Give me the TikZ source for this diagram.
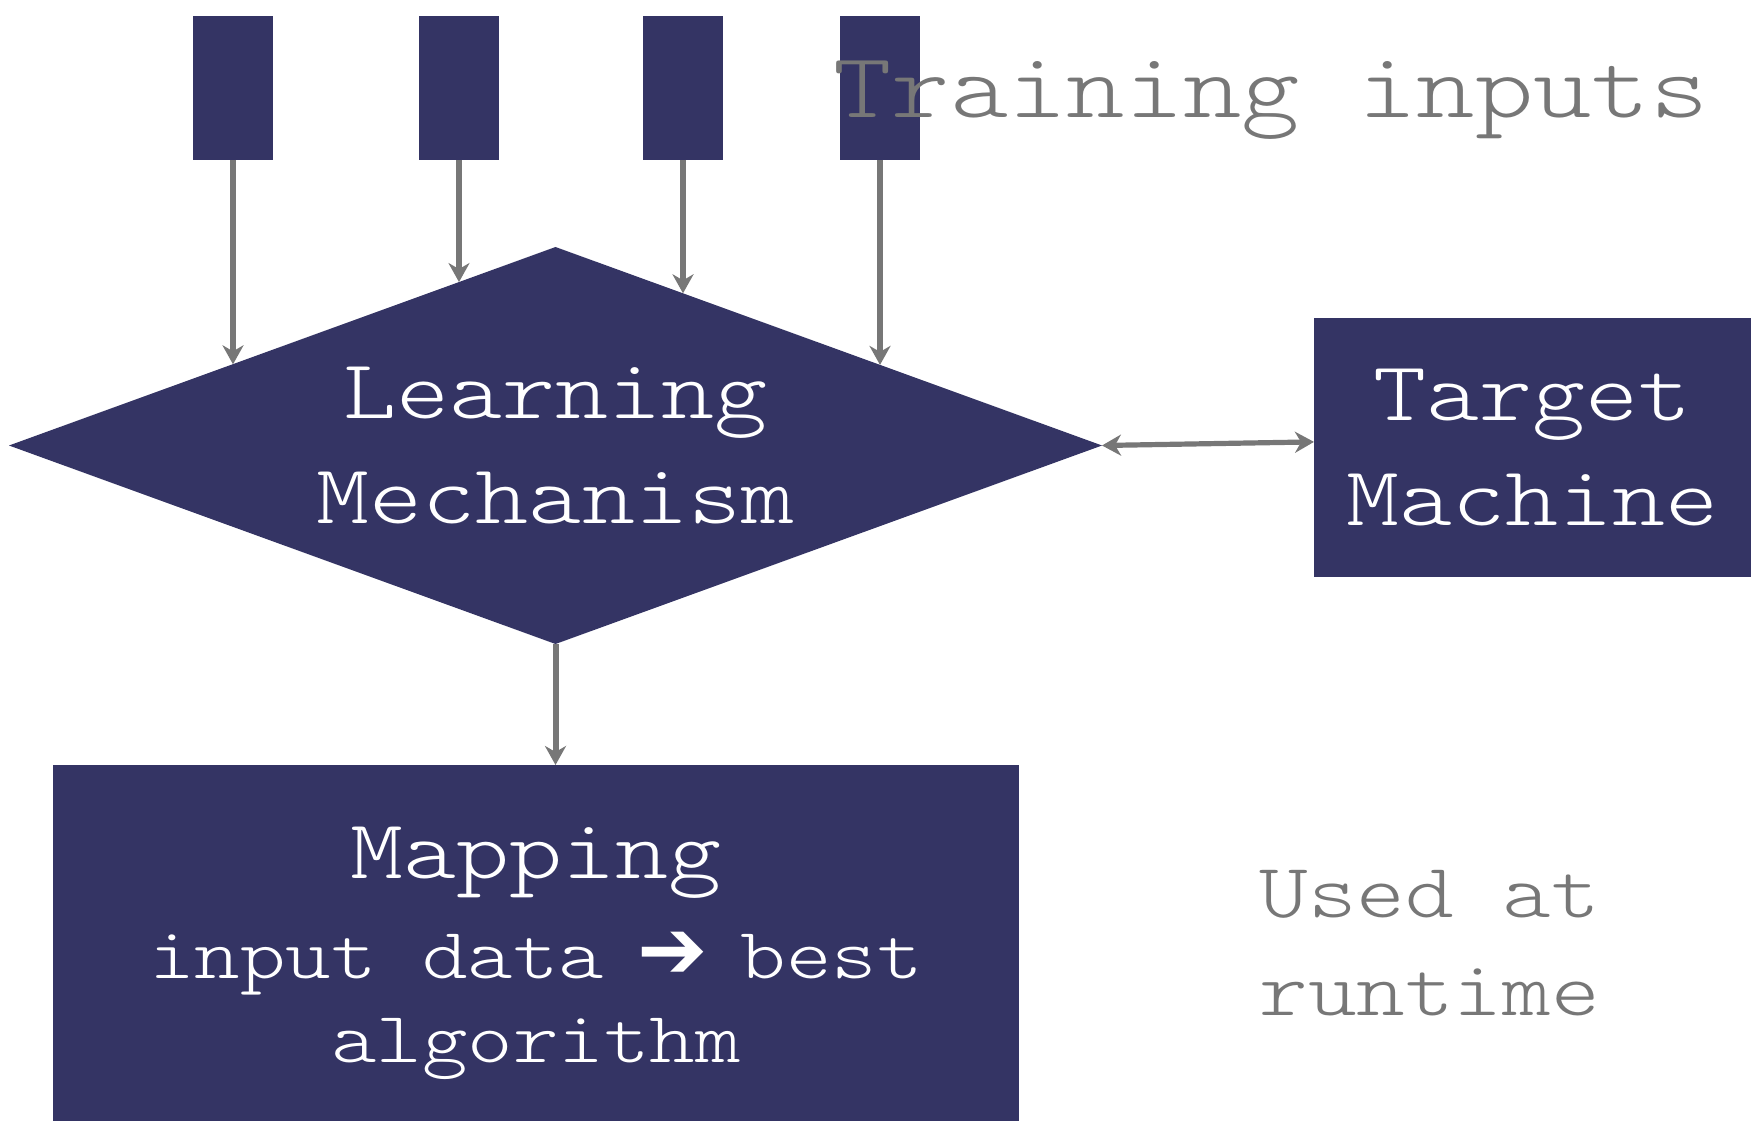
\documentclass[tikz,border=0pt]{standalone}
\usepackage{fontspec}
\setmainfont{lmmonolt10-regular.otf}[FakeStretch=1.2]
\newfontfamily\symbolfont{DejaVu Sans}
\usetikzlibrary{shapes.geometric,arrows.meta,calc}
\definecolor{navy}{RGB}{52,52,100}
\definecolor{wire}{RGB}{119,119,119}
\begin{document}
\begin{tikzpicture}[x=0.5pt,y=-0.5pt,
  block/.style={fill=navy,draw=none,inner sep=0pt,outer sep=0pt,text=white},
  feed/.style={block,minimum width=39.75pt,minimum height=72pt},
  conn/.style={draw=wire,line width=3pt,-{Stealth[length=9.5pt,width=10.5pt,inset=3pt]}},
  label/.style={text=wire,inner sep=0pt}]
\useasboundingbox (0,0) rectangle (1754,1128);

% training input blocks
\node[feed] (in1) at (233,88) {};
\node[feed] (in2) at (459,88) {};
\node[feed] (in3) at (683,88) {};
\node[feed] (in4) at (880,88) {};

% learning mechanism
\node[block,diamond,aspect=2.75,minimum width=546.5pt,minimum height=198.5pt,
      align=center,font=\fontsize{42.1}{52.6}\selectfont] (learn) at (555.5,445.5)
      {Learning\\Mechanism};

% target machine
\node[block,minimum width=218.5pt,minimum height=129.5pt,align=center,
      font=\fontsize{42.1}{52.6}\selectfont] (tm) at (1532.5,447.5) {Target\\Machine};

% resulting mapping
\node[block,minimum width=483.25pt,minimum height=178pt,align=center,
      font=\fontsize{36.1}{48.7}\selectfont] (map) at (536,943)
      {{\fontsize{42.1}{52.6}\selectfont\rule{0pt}{36pt}Mapping}\\[1.5pt]
       input data \makebox[0.63em][c]{\symbolfont\fontsize{42}{42}\selectfont ➔} best\\[-6.7pt]
       algorithm};

% labels
\node[label,anchor=base west,font=\fontsize{46.3}{56}\selectfont] (title) at (833,117.5) {Training inputs};
\node[label,align=left,font=\fontsize{38.6}{49}\selectfont] (rt) at (1429.6,943) {Used at\\runtime};

% points where the feeds meet the diamond's upper edges
\coordinate (e1) at ($(learn.west)!0.409!(learn.north)$);
\coordinate (e2) at ($(learn.west)!0.8234!(learn.north)$);
\coordinate (e3) at ($(learn.north)!0.2333!(learn.east)$);
\coordinate (e4) at ($(learn.north)!0.594!(learn.east)$);

\draw[conn] (in1.south) -- (in1.south |- e1);
\draw[conn] (in2.south) -- (in2.south |- e2);
\draw[conn] (in3.south) -- (in3.south |- e3);
\draw[conn] (in4.south) -- (in4.south |- e4);

\draw[conn,line width=2.6pt,{Stealth[length=9.5pt,width=10.5pt,inset=3pt]}-{Stealth[length=9.5pt,width=10.5pt,inset=3pt]}]
  (learn.east) -- ([yshift=2.8pt]tm.west);
\draw[conn] (learn.south) -- (learn.south |- map.north);
\end{tikzpicture}
\end{document}
